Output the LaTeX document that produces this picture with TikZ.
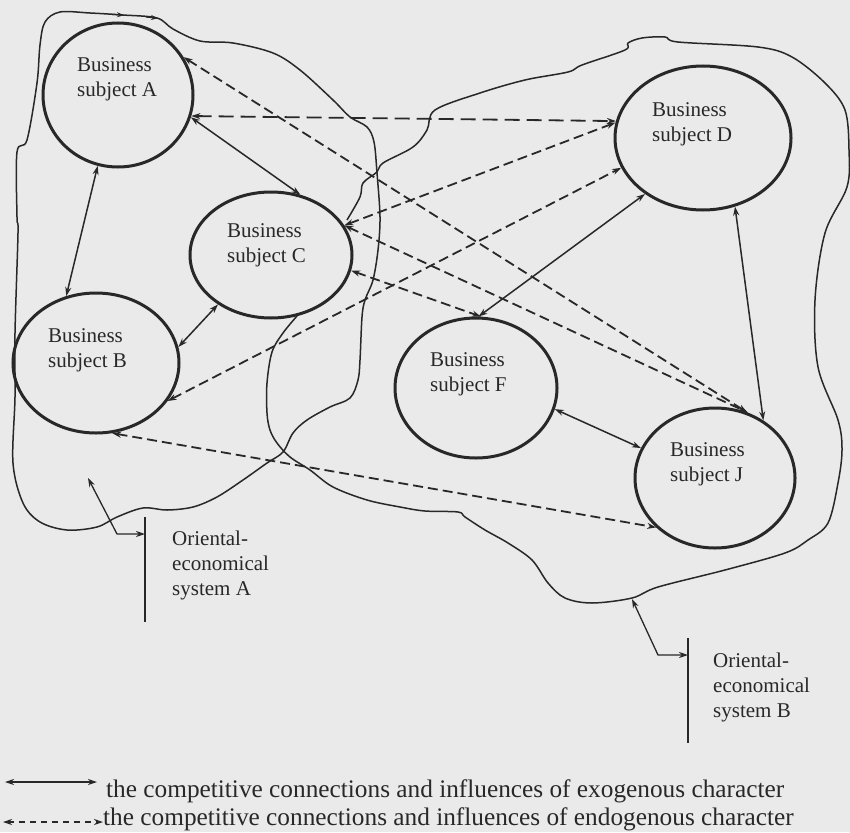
\documentclass[tikz,border=0pt]{standalone}
\usepackage{fontspec}
\setmainfont{Liberation Serif}
\usetikzlibrary{arrows.meta,shapes.geometric}
\definecolor{bg}{RGB}{234,234,234}
\definecolor{ink}{RGB}{40,40,40}
\begin{document}
\begin{tikzpicture}[x=1pt,y=-1pt,
  subj/.style={draw=ink,line width=3pt,ellipse,inner sep=0pt},
  lbl/.style={anchor=north west,inner sep=0pt,align=left,text=ink,font=\fontsize{21}{25}\selectfont},
  leg/.style={anchor=base west,inner sep=0pt,text=ink,font=\fontsize{25.3}{28}\selectfont},
  exo/.style={draw=ink,line width=1.5pt,{Stealth[length=9pt,width=6pt]}-{Stealth[length=9pt,width=6pt]}},
  endo/.style={draw=ink,line width=1.8pt,dash pattern=on 10pt off 5pt,{Stealth[length=9pt,width=6pt]}-{Stealth[length=9pt,width=6pt]}},
  endolong/.style={endo,dash pattern=on 15pt off 7pt},
  outline/.style={draw=ink,line width=1.5pt,line join=round},
  bar/.style={draw=ink,line width=1.3pt}]
\useasboundingbox (0,0) rectangle (850,832);
\fill[bg] (0,0) rectangle (850,832);

% system outlines
\draw[outline] plot[smooth cycle,tension=0.55] coordinates {
 (60,12) (90,13) (123,15) (157,18) (173,29) (200,41) (233,43) (273,53) (300,70)
 (333,100) (350,117) (367,127) (374,142) (377,173) (380,217) (378,250) (373,280)
 (365,300) (362,317) (360,360) (358,380) (350,398) (330,407) (307,420) (293,433)
 (283,452) (267,463) (243,480) (217,497) (193,507) (167,510) (143,508) (117,517)
 (97,527) (67,530) (40,522) (23,503) (13,463) (15,397) (15,333) (18,233) (17,217)
 (17,152) (27,140) (37,83) (40,45) (45,22)};
\draw[outline] plot[smooth,tension=0.55] coordinates {
 (297,316) (283,333) (272,352) (267,383) (267,413) (270,430) (277,443) (290,457)
 (310,470) (333,487) (367,500) (400,507) (425,511) (458,512) (465,517) (485,530)
 (508,543) (532,560) (548,583) (565,598) (592,603) (632,598) (658,587) (725,570)
 (785,553) (808,540) (828,523) (838,483) (842,450) (838,420) (818,367) (815,300)
 (825,233) (847,187) (849,150) (845,110) (825,83) (792,57) (758,47) (678,42)
 (665,37) (642,38) (628,43) (625,50) (582,65) (568,72) (525,80) (480,93) (435,110)
 (427,130) (413,147) (383,163) (377,172) (363,183) (360,197) (347,220)};
% small tips on the top of outline A
\draw[ink,line width=1.2pt,-{Stealth[length=7pt,width=5pt]}] (112,14.4) -- (124,15.2);
\draw[ink,line width=1.2pt,-{Stealth[length=7pt,width=5pt]}] (146,17) -- (158,18.2);

% subjects
\node[subj,minimum width=150pt,minimum height=144pt] (A) at (118,95) {};
\node[subj,minimum width=166pt,minimum height=140pt] (B) at (96,363) {};
\node[subj,minimum width=162pt,minimum height=126pt] (C) at (271,255) {};
\node[subj,minimum width=176pt,minimum height=144pt] (D) at (703,138) {};
\node[subj,minimum width=162pt,minimum height=140pt] (F) at (476,388) {};
\node[subj,minimum width=160pt,minimum height=140pt] (J) at (715,478) {};

\node[lbl] (tA) at (77,57.5) {Business\\subject A};
\node[lbl] (tB) at (48,328.5) {Business\\subject B};
\node[lbl] (tC) at (227,223.5) {Business\\subject C};
\node[lbl] (tD) at (652,102.5) {Business\\subject D};
\node[lbl] (tF) at (430,352.5) {Business\\subject F};
\node[lbl] (tJ) at (670,442.5) {Business\\subject J};

% exogenous (solid) connections
\draw[exo] (A.-106) -- (B.114);
\draw[exo] (A.-17) -- (C.64);
\draw[exo] (B.11) -- (C.-137);
\draw[exo] (D.-136) -- (F.88);
\draw[exo] (D.-65) -- (J.50);
\draw[exo] (F.-15) -- (J.158);

% endogenous (dashed) connections
\draw[endolong] (A.-16) -- (D.169);
\draw[endo] (A.30) -- (J.64);
\draw[endo] (C.22) -- (J.63);
\draw[endo] (C.22) -- (D.170);
\draw[endo] (C.-11) -- (F.86);
\draw[endo] (B.-28) -- (D.-160);
\draw[endo] (B.-77) -- (J.-140);

% system labels
\coordinate (sysA) at (88,478);
\coordinate (bendA) at (117,534);
\coordinate (pA) at (145,534);
\coordinate (barAt) at (145,517);
\coordinate (barAb) at (145,622);
\draw[bar] (barAt) -- (barAb);
\draw[exo,line width=1.3pt] (sysA) -- (bendA) -- (pA);
\node[lbl] (tsA) at (172,530.5) {Oriental-\\economical\\system A};

\coordinate (sysB) at (632,599);
\coordinate (bendB) at (658,655);
\coordinate (pB) at (688,655);
\coordinate (barBt) at (688,638);
\coordinate (barBb) at (688,743);
\draw[bar] (barBt) -- (barBb);
\draw[exo,line width=1.3pt] (sysB) -- (bendB) -- (pB);
\node[lbl] (tsB) at (713,652.5) {Oriental-\\economical\\system B};

% legend
\coordinate (l1a) at (5,782);
\coordinate (l1b) at (97,782);
\coordinate (l2a) at (3,822);
\coordinate (l2b) at (103,822);
\draw[exo,line width=1.3pt] (l1a) -- (l1b);
\draw[endo,line width=1.3pt,dash pattern=on 6pt off 5pt] (l2a) -- (l2b);
\node[leg] (leg1) at (106,797) {the competitive connections and influences of exogenous character};
\node[leg] (leg2) at (103,825) {the competitive connections and influences of endogenous character};
\end{tikzpicture}
\end{document}
